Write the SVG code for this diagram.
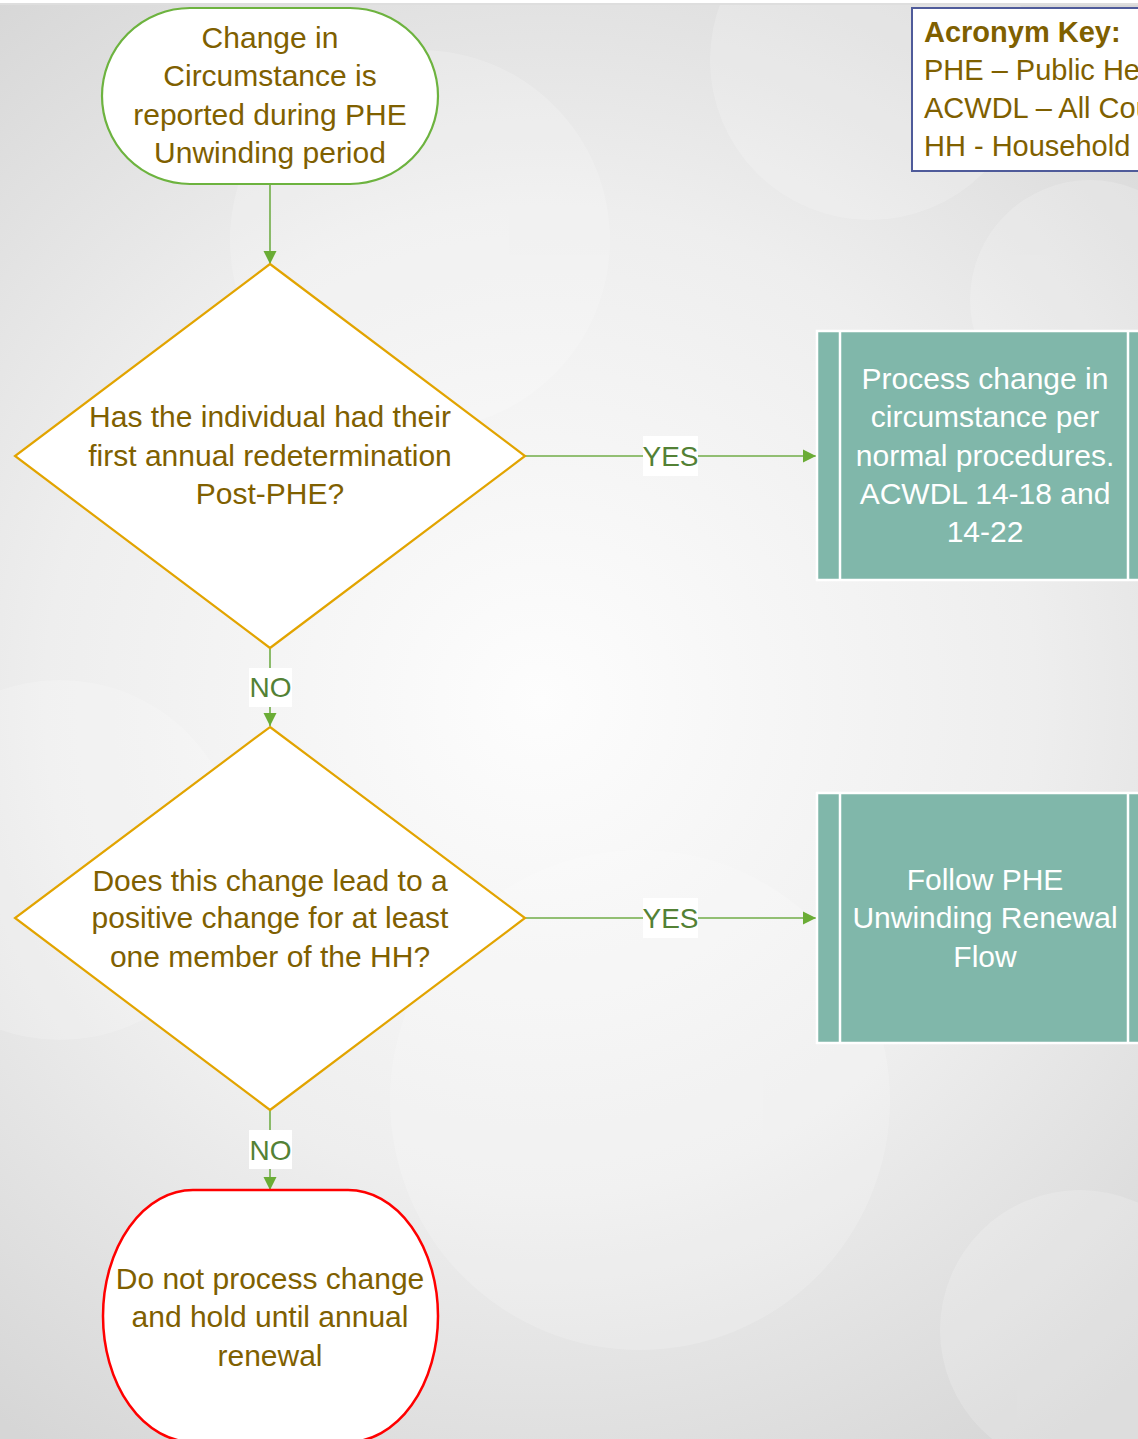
<svg xmlns="http://www.w3.org/2000/svg" width="1138" height="1439" viewBox="0 0 1138 1439">
<defs>
<radialGradient id="bg" cx="540" cy="700" r="900" gradientUnits="userSpaceOnUse">
<stop offset="0" stop-color="#fdfdfd"/>
<stop offset="0.55" stop-color="#eeeeee"/>
<stop offset="1" stop-color="#d6d6d6"/>
</radialGradient>
<marker id="arr" markerWidth="14" markerHeight="14" refX="13" refY="7" orient="auto" markerUnits="userSpaceOnUse">
<path d="M0,0.5 L13,7 L0,13.5 Z" fill="#6aac35"/>
</marker>
<style>
.t{font-family:"Liberation Sans",Arial,sans-serif;font-size:30px;fill:#7f6000;text-anchor:middle}
.w{font-family:"Liberation Sans",Arial,sans-serif;font-size:30px;fill:#ffffff;text-anchor:middle}
.k{font-family:"Liberation Sans",Arial,sans-serif;font-size:29px;fill:#7f6000}
.lbl{font-family:"Liberation Sans",Arial,sans-serif;font-size:28px;fill:#538135;text-anchor:middle}
.conn{stroke:#70ad47;stroke-width:1.6;fill:none}
.dia{fill:#ffffff;stroke:#e2a400;stroke-width:2.2}
.proc{fill:#80b7aa;stroke:#ffffff;stroke-width:2.5}
.lb{fill:#ffffff}
</style>
</defs>
<rect width="1138" height="1439" fill="url(#bg)"/>
<g fill="#ffffff" opacity="0.18">
<circle cx="870" cy="60" r="160"/>
<circle cx="420" cy="240" r="190"/>
<circle cx="640" cy="1100" r="250"/>
<circle cx="1080" cy="1330" r="140"/>
<circle cx="1090" cy="300" r="120"/>
<circle cx="60" cy="860" r="180"/>
</g>
<rect x="0" y="0" width="1138" height="3" fill="#ffffff"/>
<rect x="0" y="3" width="1138" height="2" fill="#dedede"/>

<g id="connectors">
<line class="conn" x1="270" y1="184" x2="270" y2="264" marker-end="url(#arr)"/>
<line class="conn" x1="525" y1="456" x2="816" y2="456" marker-end="url(#arr)"/>
<line class="conn" x1="270" y1="648" x2="270" y2="726" marker-end="url(#arr)"/>
<line class="conn" x1="525" y1="918" x2="816" y2="918" marker-end="url(#arr)"/>
<line class="conn" x1="270" y1="1110" x2="270" y2="1190" marker-end="url(#arr)"/>
<rect class="lb" x="643" y="436" width="55" height="40"/>
<text class="lbl" x="670.5" y="466">YES</text>
<rect class="lb" x="249" y="668" width="43" height="39"/>
<text class="lbl" x="270.5" y="697">NO</text>
<rect class="lb" x="643" y="898" width="55" height="40"/>
<text class="lbl" x="670.5" y="928">YES</text>
<rect class="lb" x="249" y="1130" width="43" height="39"/>
<text class="lbl" x="270.5" y="1160">NO</text>
</g>

<g id="start">
<rect x="102" y="8" width="336" height="176" rx="88" ry="88" fill="#ffffff" stroke="#6db33f" stroke-width="2.2"/>
<text class="t" x="270" y="48">Change in</text>
<text class="t" x="270" y="86">Circumstance is</text>
<text class="t" x="270" y="125">reported during PHE</text>
<text class="t" x="270" y="163">Unwinding period</text>
</g>

<g id="key">
<rect x="912" y="8" width="240" height="163" fill="#ffffff" stroke="#4f5b9a" stroke-width="2"/>
<text class="k" x="924" y="42" font-weight="bold" font-size="26">Acronym Key:</text>
<text class="k" x="924" y="80">PHE – Public Health Emergency</text>
<text class="k" x="924" y="118">ACWDL – All County Welfare Directors Letter</text>
<text class="k" x="924" y="156">HH - Household</text>
</g>

<g id="decision1">
<polygon class="dia" points="270,264 525,456 270,648 15,456"/>
<text class="t" x="270" y="427">Has the individual had their</text>
<text class="t" x="270" y="466">first annual redetermination</text>
<text class="t" x="270" y="504">Post-PHE?</text>
</g>

<g id="process1">
<rect class="proc" x="817" y="331" width="340" height="249"/>
<line x1="840" y1="331" x2="840" y2="580" stroke="#ffffff" stroke-width="2.5"/>
<line x1="1128" y1="331" x2="1128" y2="580" stroke="#ffffff" stroke-width="2.5"/>
<text class="w" x="985" y="389">Process change in</text>
<text class="w" x="985" y="427">circumstance per</text>
<text class="w" x="985" y="466">normal procedures.</text>
<text class="w" x="985" y="504">ACWDL 14-18 and</text>
<text class="w" x="985" y="542">14-22</text>
</g>

<g id="decision2">
<polygon class="dia" points="270,727 525,918 270,1110 15,918"/>
<text class="t" x="270" y="891">Does this change lead to a</text>
<text class="t" x="270" y="928">positive change for at least</text>
<text class="t" x="270" y="967">one member of the HH?</text>
</g>

<g id="process2">
<rect class="proc" x="817" y="793" width="340" height="250"/>
<line x1="840" y1="793" x2="840" y2="1043" stroke="#ffffff" stroke-width="2.5"/>
<line x1="1128" y1="793" x2="1128" y2="1043" stroke="#ffffff" stroke-width="2.5"/>
<text class="w" x="985" y="890">Follow PHE</text>
<text class="w" x="985" y="928">Unwinding Renewal</text>
<text class="w" x="985" y="967">Flow</text>
</g>

<g id="end">
<rect x="103" y="1190" width="335" height="252" rx="90" ry="126" fill="#ffffff" stroke="#ff0000" stroke-width="2.5"/>
<text class="t" x="270" y="1289">Do not process change</text>
<text class="t" x="270" y="1327">and hold until annual</text>
<text class="t" x="270" y="1366">renewal</text>
</g>
</svg>
